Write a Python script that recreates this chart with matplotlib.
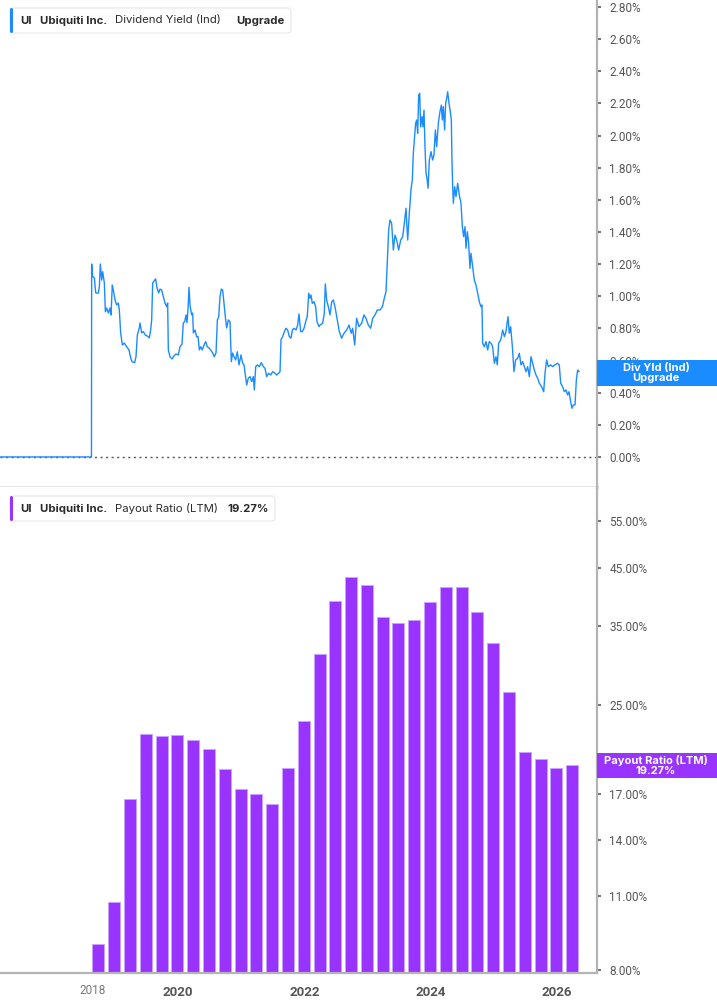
import matplotlib
matplotlib.use("Agg")
import matplotlib.pyplot as plt
from matplotlib.patches import FancyBboxPatch, Rectangle
from matplotlib.transforms import Affine2D
import numpy as np

plt.rcParams['font.family'] = ['Roboto', 'DejaVu Sans']

W, H = 717, 1005

# --- Dividend Yield (Ind), % ---
yield_dates = [
    2017.000, 2018.630,
    2018.633, 2018.650, 2018.676, 2018.697, 2018.739, 2018.755, 2018.770, 2018.792,
    2018.808, 2018.834, 2018.850, 2018.871, 2018.897, 2018.924, 2018.939, 2018.960,
    2018.976, 2019.003, 2019.029, 2019.055, 2019.071, 2019.092, 2019.119, 2019.150,
    2019.187, 2019.224, 2019.251, 2019.272, 2019.314, 2019.335, 2019.356, 2019.388,
    2019.398, 2019.425, 2019.451, 2019.483, 2019.514, 2019.546, 2019.567, 2019.583,
    2019.599, 2019.625, 2019.646, 2019.668, 2019.694, 2019.715, 2019.741, 2019.768,
    2019.794, 2019.821, 2019.836, 2019.847, 2019.873, 2019.905, 2019.937, 2019.968,
    2020.005, 2020.032, 2020.063, 2020.084, 2020.106, 2020.127, 2020.142, 2020.158,
    2020.174, 2020.190, 2020.216, 2020.232, 2020.243, 2020.269, 2020.296, 2020.317,
    2020.338, 2020.359, 2020.385, 2020.412, 2020.438, 2020.464, 2020.491, 2020.517,
    2020.549, 2020.575, 2020.602, 2020.623, 2020.644, 2020.665, 2020.686, 2020.707,
    2020.728, 2020.749, 2020.770, 2020.797, 2020.823, 2020.844, 2020.865, 2020.886,
    2020.913, 2020.939, 2020.966, 2020.997, 2021.024, 2021.045, 2021.066, 2021.087,
    2021.113, 2021.140, 2021.166, 2021.192, 2021.208, 2021.230, 2021.256, 2021.287,
    2021.319, 2021.351, 2021.377, 2021.404, 2021.435, 2021.467, 2021.499, 2021.536,
    2021.562, 2021.594, 2021.615, 2021.631, 2021.657, 2021.683, 2021.710, 2021.736,
    2021.762, 2021.789, 2021.810, 2021.836, 2021.868, 2021.894, 2021.915, 2021.942,
    2021.968, 2021.995, 2022.021, 2022.047, 2022.069, 2022.090, 2022.105, 2022.126,
    2022.153, 2022.179, 2022.200, 2022.232,
    2022.248, 2022.290, 2022.316, 2022.332, 2022.353, 2022.380, 2022.406, 2022.433,
    2022.459, 2022.485, 2022.522, 2022.554, 2022.591, 2022.628, 2022.670, 2022.707,
    2022.744, 2022.765, 2022.797, 2022.828, 2022.865, 2022.907, 2022.944, 2022.976,
    2023.013, 2023.050, 2023.082, 2023.119, 2023.155, 2023.198, 2023.235, 2023.266,
    2023.293, 2023.314, 2023.335, 2023.356, 2023.382, 2023.409, 2023.435, 2023.462,
    2023.493, 2023.525, 2023.557, 2023.583, 2023.609, 2023.636, 2023.662, 2023.688,
    2023.709, 2023.725, 2023.741, 2023.762, 2023.778, 2023.794, 2023.810, 2023.826,
    2023.841, 2023.863, 2023.878, 2023.894, 2023.910, 2023.926, 2023.942, 2023.958,
    2023.979, 2024.005, 2024.031, 2024.052, 2024.074, 2024.095, 2024.121, 2024.147,
    2024.169, 2024.184, 2024.200, 2024.221, 2024.237, 2024.253, 2024.269, 2024.290,
    2024.311, 2024.327, 2024.337, 2024.348, 2024.359, 2024.380, 2024.401, 2024.427,
    2024.453, 2024.480, 2024.501, 2024.522, 2024.543, 2024.559, 2024.580, 2024.601,
    2024.622, 2024.638, 2024.665, 2024.691, 2024.717, 2024.744, 2024.770, 2024.796,
    2024.812, 2024.823, 2024.849, 2024.876, 2024.902, 2024.928, 2024.955, 2024.981,
    2025.008, 2025.034, 2025.055, 2025.076, 2025.108, 2025.140, 2025.166, 2025.192,
    2025.224, 2025.245, 2025.266, 2025.293, 2025.319, 2025.345, 2025.377, 2025.403,
    2025.430, 2025.456, 2025.482, 2025.509, 2025.535, 2025.562, 2025.588, 2025.614,
    2025.641, 2025.667, 2025.694, 2025.720, 2025.757, 2025.789, 2025.810, 2025.836,
    2025.862, 2025.899, 2025.931, 2025.968, 2026.005, 2026.036, 2026.058, 2026.089,
    2026.116, 2026.142, 2026.168, 2026.190, 2026.216, 2026.237, 2026.258, 2026.285,
    2026.306, 2026.327, 2026.348,
]
yield_values = [
    0.0, 0.0,
    1.201, 1.122, 1.114, 1.022, 1.019, 1.060, 1.201, 1.101,
    1.153, 1.083, 0.904, 0.927, 0.896, 0.927, 0.884, 1.070,
    1.039, 0.977, 0.946, 0.958, 0.915, 0.772, 0.697, 0.709,
    0.686, 0.666, 0.616, 0.593, 0.587, 0.624, 0.759, 0.803,
    0.834, 0.772, 0.780, 0.759, 0.753, 0.741, 0.790, 0.853,
    1.083, 1.097, 1.108, 1.052, 1.021, 1.045, 1.039, 0.998,
    0.958, 0.935, 0.958, 0.666, 0.624, 0.610, 0.629, 0.641,
    0.635, 0.686, 0.703, 0.834, 0.842, 0.884, 0.836, 0.915,
    1.056, 0.946, 0.884, 0.896, 0.772, 0.790, 0.747, 0.749,
    0.666, 0.686, 0.666, 0.697, 0.718, 0.686, 0.678, 0.666,
    0.647, 0.624, 0.649, 0.853, 0.873, 0.998, 1.045, 1.039,
    0.958, 0.873, 0.803, 0.853, 0.842, 0.593, 0.647, 0.624,
    0.604, 0.655, 0.573, 0.635, 0.583, 0.573, 0.510, 0.448,
    0.490, 0.500, 0.469, 0.500, 0.417, 0.562, 0.573, 0.562,
    0.587, 0.562, 0.552, 0.500, 0.521, 0.510, 0.531, 0.521,
    0.510, 0.521, 0.531, 0.732, 0.749, 0.780, 0.801, 0.790,
    0.749, 0.739, 0.790, 0.801, 0.790, 0.821, 0.890, 0.780,
    0.780, 0.801, 0.842, 0.877, 1.019, 0.988, 1.008, 0.956,
    0.966, 0.935, 0.842, 0.811,
    0.821, 0.832, 0.894, 1.077, 0.977, 0.935, 0.884, 0.966,
    0.977, 0.935, 0.853, 0.780, 0.739, 0.770, 0.790, 0.821,
    0.770, 0.801, 0.697, 0.863, 0.811, 0.832, 0.884, 0.863,
    0.821, 0.801, 0.863, 0.884, 0.915, 0.915, 0.935, 0.988,
    1.029, 1.226, 1.413, 1.475, 1.454, 1.288, 1.381, 1.350,
    1.288, 1.350, 1.371, 1.454, 1.548, 1.350, 1.517, 1.662,
    1.724, 1.890, 1.973, 2.077, 2.097, 2.014, 2.253, 2.263,
    2.055, 2.118, 2.055, 2.159, 1.931, 1.765, 1.734, 1.672,
    1.848, 1.900, 1.848, 1.879, 2.035, 1.931, 2.077, 2.149,
    2.190, 2.097, 2.180, 2.035, 2.201, 2.232, 2.273, 2.201,
    2.149, 2.097, 1.848, 1.682, 1.579, 1.682, 1.620, 1.703,
    1.630, 1.579, 1.433, 1.371, 1.433, 1.299, 1.402, 1.330,
    1.174, 1.268, 1.184, 1.101, 1.070, 1.019, 0.966, 0.935,
    0.946, 0.708, 0.686, 0.718, 0.666, 0.718, 0.708, 0.686,
    0.583, 0.624, 0.573, 0.708, 0.728, 0.790, 0.749, 0.780,
    0.873, 0.770, 0.811, 0.686, 0.531, 0.604, 0.614, 0.645,
    0.573, 0.593, 0.562, 0.531, 0.562, 0.500, 0.624, 0.583,
    0.541, 0.510, 0.490, 0.459, 0.437, 0.406, 0.521, 0.604,
    0.562, 0.573, 0.562, 0.573, 0.583, 0.573, 0.459, 0.437,
    0.406, 0.417, 0.386, 0.406, 0.344, 0.303, 0.324, 0.324,
    0.479, 0.541, 0.531,
]

# --- Payout Ratio (LTM), %, quarterly from 2018 Q3 ---
payout_quarters = ['2018Q3', '2018Q4',
                   '2019Q1', '2019Q2', '2019Q3', '2019Q4',
                   '2020Q1', '2020Q2', '2020Q3', '2020Q4',
                   '2021Q1', '2021Q2', '2021Q3', '2021Q4',
                   '2022Q1', '2022Q2', '2022Q3', '2022Q4',
                   '2023Q1', '2023Q2', '2023Q3', '2023Q4',
                   '2024Q1', '2024Q2', '2024Q3', '2024Q4',
                   '2025Q1', '2025Q2', '2025Q3', '2025Q4',
                   '2026Q1']
payout_values = [8.94, 10.71,
                 16.67, 22.04, 21.88, 21.95,
                 21.48, 20.64, 18.99, 17.38,
                 17.03, 16.32, 19.02, 23.31,
                 30.99, 39.02, 43.13, 41.75,
                 36.45, 35.49, 35.98, 38.90,
                 41.38, 41.38, 37.17, 32.58,
                 26.40, 20.37, 19.79, 19.02,
                 19.27]

yield_ticks = [0.0, 0.2, 0.4, 0.6, 0.8, 1.0, 1.2, 1.4, 1.6, 1.8, 2.0, 2.2, 2.4, 2.6, 2.8]
payout_ticks = [8, 11, 14, 17, 25, 35, 45, 55]
year_ticks = [2020, 2022, 2024, 2026]

BLUE = '#1a8cff'
PURPLE = '#9933ff'
AXIS_GREY = '#b4b4b4'
TICK_TXT = '#555555'

# quarter -> decimal year at quarter end
payout_x = [int(q[:4]) + int(q[5]) * 0.25 - 0.01 for q in payout_quarters]

fig = plt.figure(figsize=(W / 100, H / 100), dpi=100)
pix = Affine2D().scale(1 / W, -1 / H).translate(0, 1) + fig.transFigure

ax1 = fig.add_axes([0, 1 - 487 / H, 597 / W, 487 / H])
ax2 = fig.add_axes([0, 1 - 973 / H, 597 / W, (973 - 487) / H])

xmin, xmax = 2017.182, 2026.633

# top panel
ax1.axhline(0, color='#555555', lw=1.0, ls=(0, (1.5, 2.5)), zorder=1)
ax1.plot(yield_dates, yield_values, color=BLUE, lw=1.0, zorder=2)
ax1.set_xlim(xmin, xmax)
ax1.set_ylim(-0.187, 2.844)
ax1.set_yticks(yield_ticks)
ax1.set_yticklabels([f'{v:.2f}%' for v in yield_ticks])
ax1.set_xticks([])

# bottom panel (log scale, bars rise from below the axis floor)
base = 1.0
ax2.bar(payout_x, np.array(payout_values) - base, width=0.19, bottom=base,
        color=PURPLE, edgecolor='#c9a3ff', linewidth=0.6, zorder=2)
ax2.set_yscale('log')
ax2.set_xlim(xmin, xmax)
ax2.set_ylim(7.897, 63.6)
ax2.set_yticks(payout_ticks)
ax2.set_yticklabels([f'{v:.2f}%' for v in payout_ticks])
ax2.yaxis.set_minor_locator(plt.NullLocator())
ax2.set_xticks(year_ticks)
ax2.set_xticklabels([str(y) for y in year_ticks], fontweight='bold',
                    fontsize=9.5, color=TICK_TXT)
ax2.tick_params(axis='x', length=0, pad=9)
ax2.text(payout_x[0] - 0.09, -0.0225, '2018', transform=ax2.get_xaxis_transform(),
         ha='center', va='top', fontsize=8.5, color='#777777')

for ax in (ax1, ax2):
    ax.set_facecolor('white')
    ax.yaxis.tick_right()
    ax.tick_params(axis='y', which='both', left=False, right=True, labelleft=False,
                   labelright=True, length=3, width=1.5, color='#777777',
                   labelsize=8.5, labelcolor=TICK_TXT, pad=6)
    ax.spines['top'].set_visible(False)
    ax.spines['left'].set_visible(False)
    ax.spines['right'].set_color(AXIS_GREY)
    ax.spines['right'].set_linewidth(1.6)

ax1.spines['bottom'].set_color('#e2e2e2')
ax1.spines['bottom'].set_linewidth(2)
ax2.spines['bottom'].set_color(AXIS_GREY)
ax2.spines['bottom'].set_linewidth(1.6)


def legend_box(x0, y0, x1, y1, accent, parts):
    fig.patches.append(FancyBboxPatch((x0, y0), x1 - x0, y1 - y0,
                                      boxstyle='round,pad=0,rounding_size=3',
                                      transform=pix, fc='white', ec='#e6e6e6',
                                      lw=0.8, zorder=5))
    fig.patches.append(FancyBboxPatch((x0, y0), 3, y1 - y0,
                                      boxstyle='round,pad=0,rounding_size=1.5',
                                      transform=pix, fc=accent, ec='none', zorder=6))
    yc = (y0 + y1) / 2
    for x, s, w in parts:
        fig.text(x, yc, s, transform=pix, ha='left', va='center', fontsize=8.2,
                 fontweight=w, color='#2b2b2b', family=['Inter', 'DejaVu Sans'],
                 zorder=7)


legend_box(10, 8, 291, 33, BLUE,
           [(20, 'UI', 'bold'), (40, 'Ubiquiti Inc.', 'bold'),
            (115, 'Dividend Yield (Ind)', 'normal'), (236, 'Upgrade', 'bold')])
legend_box(10, 496, 275, 521, PURPLE,
           [(20, 'UI', 'bold'), (40, 'Ubiquiti Inc.', 'bold'),
            (115, 'Payout Ratio (LTM)', 'normal'), (227, '19.27%', 'bold')])


def value_tag(y0, y1, color, label):
    fig.patches.append(Rectangle((597, y0), 120, y1 - y0, transform=pix,
                                 fc=color, ec='none', zorder=5))
    fig.text(656, (y0 + y1) / 2, label, transform=pix, ha='center', va='center',
             fontsize=8, fontweight='bold', color='white', linespacing=1.05,
             family=['Inter', 'DejaVu Sans'], zorder=7)


value_tag(360, 386, BLUE, 'Div Yld (Ind)\nUpgrade')
value_tag(753, 778, PURPLE, 'Payout Ratio (LTM)\n19.27%')

fig.savefig('out.png', dpi=100, facecolor='white')
